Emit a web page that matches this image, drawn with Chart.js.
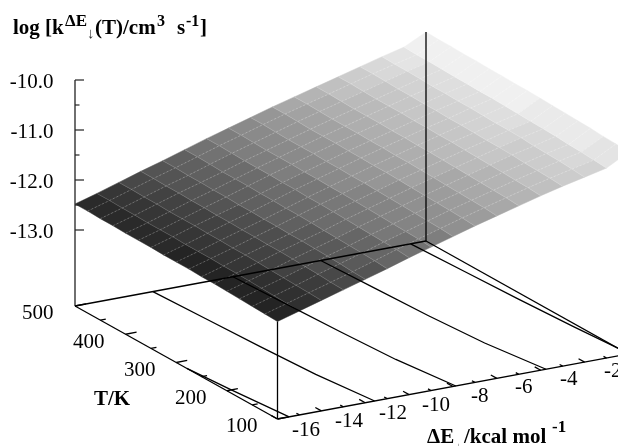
<!DOCTYPE html>
<html><head><meta charset="utf-8">
<style>html,body{margin:0;padding:0;background:#fff}canvas{display:block}</style>
<script src="https://cdn.jsdelivr.net/npm/chart.js@4"></script>
</head><body><canvas id="c" width="618" height="446"></canvas>
<script>
const energies=[-16,-15,-14,-13,-12,-11,-10,-9,-8,-7,-6,-5,-4,-3,-2,-1,0];
const temperatures=[500,475,450,425,400,375,350,325,300,275,250,225,200,175,150,125,100];
const logK=[
[-12.48,-12.35,-12.21,-12.07,-11.94,-11.80,-11.66,-11.53,-11.40,-11.27,-11.15,-11.03,-10.91,-10.79,-10.67,-10.56,-10.34],
[-12.48,-12.35,-12.21,-12.07,-11.94,-11.80,-11.66,-11.53,-11.40,-11.27,-11.15,-11.03,-10.91,-10.79,-10.68,-10.57,-10.35],
[-12.49,-12.36,-12.22,-12.08,-11.95,-11.81,-11.67,-11.54,-11.41,-11.28,-11.16,-11.04,-10.92,-10.80,-10.68,-10.57,-10.35],
[-12.49,-12.36,-12.22,-12.08,-11.95,-11.82,-11.68,-11.55,-11.42,-11.29,-11.17,-11.05,-10.93,-10.81,-10.69,-10.58,-10.36],
[-12.50,-12.37,-12.23,-12.09,-11.96,-11.82,-11.68,-11.55,-11.42,-11.29,-11.17,-11.05,-10.93,-10.81,-10.70,-10.59,-10.36],
[-12.50,-12.37,-12.23,-12.09,-11.96,-11.82,-11.68,-11.55,-11.42,-11.29,-11.17,-11.05,-10.93,-10.82,-10.70,-10.59,-10.37],
[-12.50,-12.37,-12.23,-12.10,-11.97,-11.83,-11.69,-11.56,-11.43,-11.30,-11.18,-11.06,-10.94,-10.82,-10.71,-10.60,-10.37],
[-12.51,-12.38,-12.24,-12.10,-11.97,-11.83,-11.69,-11.56,-11.43,-11.30,-11.18,-11.06,-10.94,-10.83,-10.71,-10.60,-10.38],
[-12.51,-12.38,-12.24,-12.11,-11.98,-11.84,-11.70,-11.57,-11.44,-11.31,-11.19,-11.07,-10.95,-10.83,-10.72,-10.61,-10.38],
[-12.51,-12.38,-12.25,-12.11,-11.98,-11.84,-11.70,-11.57,-11.44,-11.31,-11.19,-11.07,-10.95,-10.84,-10.73,-10.62,-10.39],
[-12.52,-12.39,-12.25,-12.12,-11.99,-11.85,-11.71,-11.58,-11.45,-11.32,-11.20,-11.08,-10.96,-10.85,-10.73,-10.63,-10.40],
[-12.52,-12.39,-12.26,-12.12,-11.99,-11.86,-11.72,-11.59,-11.46,-11.33,-11.21,-11.09,-10.97,-10.85,-10.74,-10.64,-10.41],
[-12.53,-12.40,-12.27,-12.13,-12.00,-11.87,-11.73,-11.60,-11.47,-11.34,-11.22,-11.10,-10.98,-10.86,-10.76,-10.65,-10.42],
[-12.54,-12.41,-12.28,-12.14,-12.01,-11.88,-11.74,-11.61,-11.48,-11.35,-11.23,-11.11,-10.99,-10.88,-10.77,-10.67,-10.43],
[-12.55,-12.42,-12.29,-12.15,-12.02,-11.89,-11.75,-11.62,-11.49,-11.36,-11.24,-11.12,-11.00,-10.89,-10.78,-10.68,-10.45],
[-12.56,-12.43,-12.30,-12.17,-12.04,-11.90,-11.76,-11.63,-11.50,-11.37,-11.25,-11.13,-11.01,-10.90,-10.80,-10.70,-10.46],
[-12.57,-12.44,-12.31,-12.18,-12.05,-11.92,-11.78,-11.65,-11.52,-11.39,-11.27,-11.15,-11.03,-10.92,-10.82,-10.72,-10.48]
];
const contourTemps=[500,400,300,200,100];
const contourM125T=[279,200,100];
const contourM125E=[-16,-15.8,-15.47];
const contourM120E=[-12.45,-12.3,-12.15,-11.95,-11.57];
const contourM115E=[-8.8,-8.65,-8.5,-8.3,-7.87];
const contourM110E=[-4.8,-4.65,-4.5,-4.25,-3.76];
const contourM105T=[500,400,300,200,121];
const contourM105E=[-0.7,-0.55,-0.4,-0.2,0];
const zTickLabels=['-10.0','-11.0','-12.0','-13.0'];
const zTicks=[-10,-11,-12,-13];
const zMinor=[-10.5,-11.5,-12.5];
const tTickLabels=['500','400','300','200','100'];
const tTicks=[500,400,300,200,100];
const tMinor=[450,350,250,150];
const eTickLabels=['-16','-14','-12','-10','-8','-6','-4','-2'];
const eTicks=[-16,-14,-12,-10,-8,-6,-4,-2,0];
const eMinor=[-15,-13,-11,-9,-7,-5,-3,-1];
const zFloor=-14.52;

/* orthographic projection of (E,T,log k) into chart coordinates */
function P(E,T,z){
  const a=(E+16)/16,b=(T-100)/400;
  const x=277.5+351*a-202.5*b;
  const yPx=419-65*a-113*b-50*(z-zFloor);
  return {x:x,y:-8.4-yPx/50};
}
const ds=[];
function line(pts,color,width,dash){
  ds.push({data:pts,borderColor:color,borderWidth:width,borderDash:dash||[],pointRadius:0,showLine:true,fill:false,tension:0});
}
/* surface */
function shade(z){
  const g=26+(z+12.57)/(2.12)*(243-26);
  const q=Math.max(0,Math.min(255,Math.round(g/6)*6));
  return 'rgb('+q+','+q+','+q+')';
}
for(let r=0;r<temperatures.length-1;r++){
  for(let c=0;c<energies.length-1;c++){
    const m=(logK[r][c]+logK[r][c+1]+logK[r+1][c]+logK[r+1][c+1])/4;
    const col=shade(m);
    const p0=P(energies[c],temperatures[r],logK[r][c]),p1=P(energies[c+1],temperatures[r],logK[r][c+1]),
          p2=P(energies[c+1],temperatures[r+1],logK[r+1][c+1]),p3=P(energies[c],temperatures[r+1],logK[r+1][c]);
    ds.push({data:[p0,p1,p2,p3,p0],backgroundColor:col,borderColor:col,borderWidth:0.5,pointRadius:0,showLine:true,fill:'shape',tension:0});
  }
}
/* surface mesh */
for(let c=1;c<energies.length-1;c++){
  line(temperatures.map((t,r)=>P(energies[c],t,logK[r][c])),'rgba(255,255,255,0.13)',1);
}
for(let r=1;r<temperatures.length-1;r++){
  line(energies.map((e,c)=>P(e,temperatures[r],logK[r][c])),'rgba(255,255,255,0.24)',1,[2,2]);
}
const K='#000';
const W=1.3;
/* contours on the base */
line(contourM125T.map((t,i)=>P(contourM125E[i],t,zFloor)),K,W);
[contourM120E,contourM115E,contourM110E].forEach(arr=>line(contourTemps.map((t,i)=>P(arr[i],t,zFloor)),K,W));
line(contourM105T.map((t,i)=>P(contourM105E[i],t,zFloor)),K,W);
/* base and verticals */
line([P(-16,500,zFloor),P(0,500,zFloor)],K,W);
line([P(0,500,zFloor),P(0,100,zFloor)],K,W);
line([P(-16,500,zFloor),P(-16,100,zFloor)],K,W);
line([P(-16,100,zFloor),P(0,100,zFloor)],K,W);
line([P(-16,500,zFloor),P(-16,500,-10)],'#333',1.4);
line([P(-16,100,zFloor),P(-16,100,logK[16][0])],K,W);
line([P(0,500,zFloor),P(0,500,logK[0][16])],K,1.3);
/* ticks */
zTicks.forEach(z=>{const p=P(-16,500,z);line([p,{x:p.x+9,y:p.y}],'#222',1.2);});
zMinor.forEach(z=>{const p=P(-16,500,z);line([p,{x:p.x+4.5,y:p.y}],'#222',1.2);});
tTicks.forEach(t=>line([P(-16,t,zFloor),P(-15.5,t,zFloor)],K,W));
tMinor.forEach(t=>line([P(-16,t,zFloor),P(-15.75,t,zFloor)],K,W));
eTicks.forEach(e=>line([P(e,100,zFloor),P(e,112,zFloor)],K,W));
eMinor.forEach(e=>line([P(e,100,zFloor),P(e,106,zFloor)],K,W));
ds.reverse();

const SERIF='"Liberation Serif","Times New Roman",serif';
const textPlugin={id:'labels',afterDraw(chart){
  const ctx=chart.ctx;ctx.save();ctx.fillStyle='#000';ctx.textBaseline='alphabetic';
  const yS=chart.scales.y;
  const put=(s,x,y,size,bold,align,color)=>{ctx.font=(bold?'bold ':'')+size+'px '+SERIF;ctx.textAlign=align||'left';ctx.fillStyle=color||'#000';ctx.fillText(s,x,y);};
  zTickLabels.forEach((s,i)=>put(s,53.5,yS.getPixelForValue(zTicks[i])+8,21,false,'right'));
  const tPos=[[53.5,319],[104.5,347.5],[155.5,376],[206.5,404],[257.5,432]];
  tTickLabels.forEach((s,i)=>put(s,tPos[i][0],tPos[i][1],21,false,'right'));
  const ePos=[[292,436],[335,427],[379,419],[422,411],[471,402],[515,393],[560,385],[604,377]];
  eTickLabels.forEach((s,i)=>put(s,ePos[i][0],ePos[i][1],21,false,'left'));
  put('T/K',94,405,21,true);
  /* z title */
  put('log [k',13,34,21,true);
  put('\u0394E',65,26,17,true);
  put('\u2193',87,38,15,false,'left','#333');
  put('(T)/cm',95,34,21,true);
  put('3',157,26,16,true);
  put('s',177,34,21,true);
  put('-1',186,26,16,true);
  put(']',200,34,21,true);
  /* E title */
  put('\u0394E',427,443,21,true);
  put('\u2193',455,452,15,false,'left','#888');
  put('/kcal mol',464,443,21,true);
  put('-1',552,432,17,true);
  ctx.restore();
}};
new Chart(document.getElementById('c'),{
  type:'scatter',
  data:{datasets:ds},
  options:{
    responsive:false,animation:false,devicePixelRatio:1,
    layout:{padding:0},
    plugins:{legend:{display:false},tooltip:{enabled:false},title:{display:false}},
    elements:{line:{capBezierPoints:false,borderCapStyle:'butt'}},
    scales:{
      x:{type:'linear',min:0,max:618,display:false},
      y:{type:'linear',min:-17.32,max:-8.4,display:false}
    }
  },
  plugins:[textPlugin]
});
</script></body></html>
